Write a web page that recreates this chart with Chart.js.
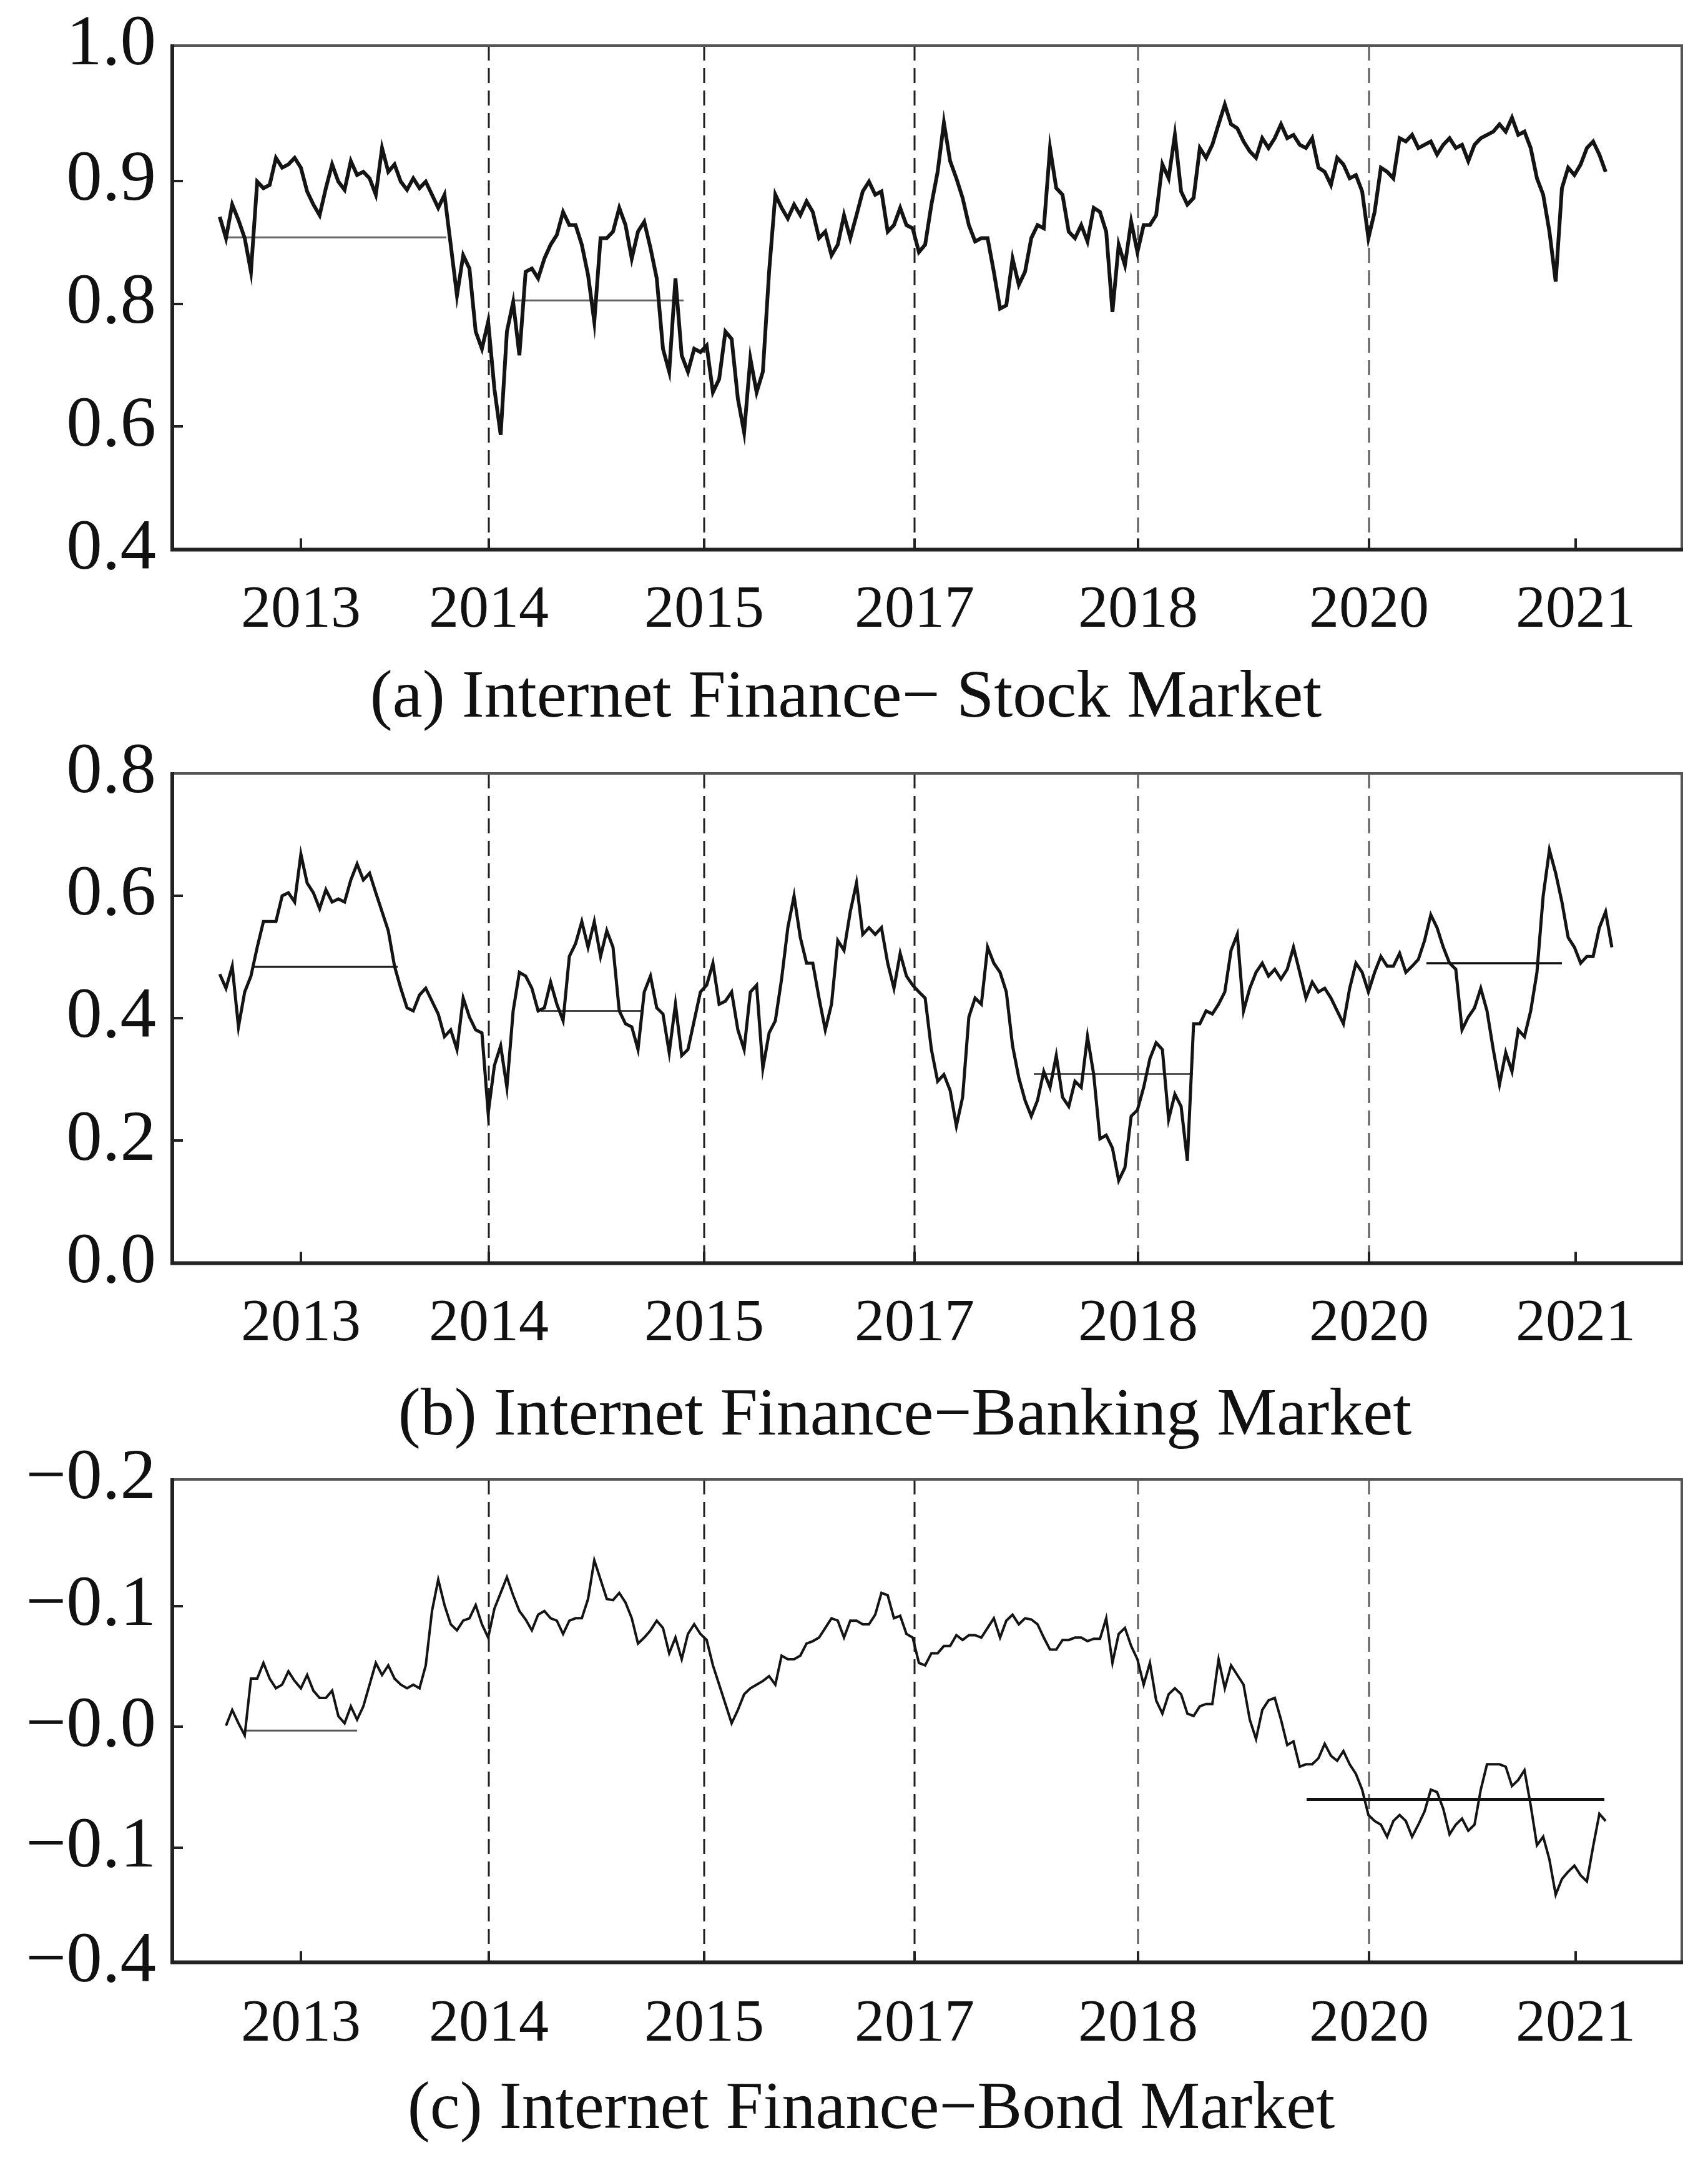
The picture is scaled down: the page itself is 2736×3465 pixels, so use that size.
<!DOCTYPE html>
<html>
<head>
<meta charset="utf-8">
<script src="https://cdn.jsdelivr.net/npm/chart.js@4.4.1/dist/chart.umd.min.js"></script>
<style>
  html, body { margin: 0; padding: 0; background: #fff; }
  body { width: 2736px; height: 3465px; position: relative; overflow: hidden; }
  canvas { position: absolute; left: 0; }
</style>
</head>
<body>
<canvas id="panelA" width="2736" height="1231" style="top:-47px"></canvas>
<canvas id="panelB" width="2736" height="1215" style="top:1119px"></canvas>
<canvas id="panelC" width="2736" height="1195" style="top:2250px"></canvas>
<script>
// x is the observation index (weekly); tick labels sit at fixed observations
const xTickPos = [13.0, 43.1, 77.6, 111.3, 147.1, 184.1, 217.2];
const xTickLabels = ["2013", "2014", "2015", "2017", "2018", "2020", "2021"];
const breakPos = [43.1, 77.6, 111.3, 147.1, 184.1];

// (a) stock market
const stockYTicks = [0.4, 0.55, 0.7, 0.85, 1.015];
const stockYLabels = ["0.4", "0.6", "0.8", "0.9", "1.0"];
const stockValues = [
  0.806,0.780,0.821,0.802,0.780,0.739,0.849,0.841,0.845,0.878,
  0.866,0.870,0.878,0.866,0.837,0.821,0.808,0.841,0.870,0.849,
  0.839,0.874,0.857,0.861,0.853,0.833,0.890,0.861,0.870,0.849,
  0.839,0.853,0.841,0.849,0.833,0.817,0.833,0.772,0.710,0.759,
  0.743,0.666,0.645,0.678,0.596,0.540,0.666,0.702,0.637,0.739,
  0.743,0.731,0.755,0.772,0.784,0.812,0.796,0.796,0.772,0.735,
  0.678,0.780,0.780,0.788,0.817,0.796,0.755,0.788,0.800,0.768,
  0.731,0.645,0.617,0.731,0.637,0.617,0.645,0.641,0.649,0.592,
  0.608,0.666,0.657,0.584,0.543,0.633,0.592,0.617,0.739,0.833,
  0.817,0.804,0.821,0.808,0.825,0.812,0.780,0.788,0.759,0.772,
  0.808,0.780,0.808,0.837,0.849,0.833,0.837,0.788,0.796,0.817,
  0.796,0.792,0.763,0.772,0.821,0.861,0.921,0.874,0.853,0.829,
  0.796,0.776,0.780,0.780,0.739,0.694,0.698,0.755,0.723,0.739,
  0.780,0.796,0.792,0.890,0.841,0.833,0.788,0.780,0.796,0.776,
  0.817,0.812,0.788,0.690,0.772,0.747,0.800,0.763,0.796,0.796,
  0.808,0.870,0.853,0.906,0.837,0.821,0.829,0.890,0.878,0.894,
  0.919,0.943,0.919,0.914,0.898,0.886,0.878,0.902,0.890,0.902,
  0.919,0.902,0.906,0.894,0.890,0.902,0.866,0.861,0.845,0.878,
  0.870,0.853,0.857,0.837,0.780,0.812,0.866,0.861,0.853,0.902,
  0.898,0.906,0.890,0.894,0.898,0.882,0.894,0.902,0.890,0.894,
  0.874,0.894,0.902,0.906,0.910,0.919,0.910,0.927,0.906,0.910,
  0.890,0.853,0.833,0.788,0.727,0.841,0.866,0.857,0.870,0.890,
  0.898,0.882,0.861
];
// regime means: [first obs, last obs, level]
const stockMeans = [[1.1, 36.3, 0.781], [47.2, 74.3, 0.704]];

// (b) banking market
const bankYTicks = [0, 0.2, 0.4, 0.6, 0.8];
const bankYLabels = ["0.0", "0.2", "0.4", "0.6", "0.8"];
const bankValues = [
  0.472,0.449,0.485,0.386,0.443,0.469,0.516,0.558,0.558,0.558,
  0.600,0.605,0.590,0.668,0.621,0.605,0.579,0.610,0.590,0.595,
  0.590,0.626,0.652,0.626,0.637,0.605,0.574,0.543,0.485,0.449,
  0.417,0.412,0.438,0.449,0.428,0.407,0.370,0.381,0.349,0.433,
  0.402,0.381,0.376,0.245,0.323,0.355,0.287,0.412,0.475,0.469,
  0.449,0.412,0.417,0.459,0.423,0.396,0.501,0.522,0.558,0.516,
  0.558,0.501,0.543,0.516,0.412,0.391,0.386,0.349,0.443,0.469,
  0.417,0.407,0.344,0.423,0.339,0.349,0.396,0.443,0.454,0.490,
  0.423,0.428,0.443,0.381,0.349,0.443,0.454,0.318,0.376,0.396,
  0.464,0.548,0.600,0.532,0.490,0.490,0.433,0.381,0.423,0.527,
  0.511,0.574,0.621,0.537,0.548,0.537,0.548,0.490,0.449,0.506,
  0.469,0.454,0.443,0.433,0.349,0.297,0.308,0.282,0.224,0.271,
  0.402,0.433,0.423,0.516,0.490,0.475,0.443,0.355,0.303,0.266,
  0.240,0.266,0.313,0.287,0.339,0.271,0.256,0.297,0.287,0.370,
  0.308,0.203,0.209,0.188,0.135,0.156,0.240,0.250,0.287,0.334,
  0.360,0.349,0.235,0.276,0.256,0.167,0.391,0.391,0.412,0.407,
  0.423,0.443,0.511,0.537,0.412,0.449,0.475,0.490,0.469,0.480,
  0.464,0.480,0.516,0.475,0.433,0.459,0.443,0.449,0.433,0.412,
  0.391,0.449,0.490,0.475,0.443,0.475,0.501,0.485,0.485,0.506,
  0.475,0.485,0.496,0.527,0.569,0.548,0.516,0.490,0.480,0.381,
  0.402,0.417,0.449,0.412,0.349,0.292,0.344,0.313,0.381,0.370,
  0.412,0.475,0.600,0.675,0.637,0.590,0.532,0.516,0.490,0.501,
  0.501,0.548,0.574,0.516
];
const bankMeans = [[5.4, 28.5, 0.484], [51.5, 67.8, 0.412], [130.4, 155.9, 0.309], [193.3, 215.0, 0.490]];

// (c) bond market
const bondYTicks = [-0.195, -0.1, 0, 0.1, 0.205];
const bondYLabels = ["\u22120.4", "\u22120.1", "\u22120.0", "\u22120.1", "\u22120.2"];
const bondValues = [
  null,0.001,0.014,0.003,-0.007,0.040,0.040,0.053,0.040,0.032,
  0.035,0.046,0.038,0.032,0.043,0.030,0.024,0.024,0.030,0.009,
  0.003,0.017,0.006,0.017,0.035,0.053,0.043,0.051,0.040,0.035,
  0.032,0.035,0.032,0.051,0.096,0.122,0.101,0.085,0.080,0.088,
  0.090,0.101,0.085,0.074,0.098,0.111,0.124,0.109,0.096,0.089,
  0.080,0.093,0.096,0.090,0.088,0.077,0.088,0.090,0.090,0.106,
  0.138,0.122,0.106,0.105,0.111,0.103,0.090,0.069,0.074,0.080,
  0.088,0.082,0.061,0.074,0.056,0.077,0.085,0.077,0.072,0.051,
  0.035,0.019,0.003,0.014,0.027,0.032,0.035,0.038,0.042,0.035,
  0.059,0.056,0.056,0.059,0.069,0.071,0.074,0.082,0.090,0.088,
  0.074,0.088,0.088,0.085,0.085,0.093,0.111,0.109,0.090,0.092,
  0.077,0.074,0.053,0.051,0.061,0.061,0.067,0.067,0.076,0.072,
  0.076,0.076,0.074,0.082,0.090,0.074,0.088,0.093,0.085,0.090,
  0.089,0.085,0.074,0.064,0.064,0.072,0.072,0.074,0.074,0.071,
  0.073,0.073,0.090,0.053,0.077,0.082,0.067,0.056,0.035,0.053,
  0.022,0.011,0.027,0.032,0.027,0.011,0.009,0.017,0.019,0.019,
  0.056,0.032,0.051,0.043,0.035,0.006,-0.010,0.014,0.022,0.024,
  0.006,-0.015,-0.012,-0.033,-0.031,-0.031,-0.026,-0.014,-0.024,-0.028,
  -0.020,-0.031,-0.039,-0.052,-0.073,-0.078,-0.081,-0.091,-0.078,-0.073,
  -0.078,-0.091,-0.081,-0.070,-0.052,-0.054,-0.068,-0.089,-0.081,-0.076,
  -0.086,-0.081,-0.052,-0.031,-0.031,-0.031,-0.033,-0.049,-0.044,-0.036,
  -0.065,-0.098,-0.091,-0.110,-0.139,-0.126,-0.120,-0.115,-0.123,-0.128,
  -0.099,-0.072,-0.078
];
const bondMeans = [[4.1, 22.0, -0.003], [174.1, 221.8, -0.060]];

const xMin = -7.6, xMax = 234.2;
const serif = "'Liberation Serif', 'Times New Roman', serif";
Chart.defaults.font.family = serif;

const framePlugin = {
    id: "frame",
    beforeDatasetsDraw(chart) {
        const { ctx, chartArea: a } = chart;
        const x = chart.scales.x;
        ctx.save();
        ctx.setLineDash([24, 12]);
        ctx.lineWidth = 3;
        breakPos.forEach((v, k) => {
            const px = Math.round(x.getPixelForValue(v));
            ctx.strokeStyle = k < 3 ? "#1e1e1e" : "#5c5c5c";
            ctx.beginPath();
            ctx.moveTo(px, a.top);
            ctx.lineTo(px, a.bottom);
            ctx.stroke();
        });
        ctx.restore();
    },
    afterDraw(chart) {
        const { ctx, chartArea: a } = chart;
        const x = chart.scales.x, y = chart.scales.y;
        ctx.save();
        ctx.strokeStyle = "#222";
        ctx.lineWidth = 4;
        // inward tick marks
        y.ticks.forEach((t) => {
            const py = Math.round(y.getPixelForValue(t.value));
            ctx.beginPath();
            ctx.moveTo(a.left, py);
            ctx.lineTo(a.left + 17, py);
            ctx.stroke();
        });
        x.ticks.forEach((t) => {
            const px = Math.round(x.getPixelForValue(t.value));
            ctx.beginPath();
            ctx.moveTo(px, a.bottom);
            ctx.lineTo(px, a.bottom - 18);
            ctx.stroke();
        });
        // box
        ctx.strokeStyle = "#555";
        ctx.lineWidth = 4;
        ctx.beginPath();
        ctx.moveTo(a.left, a.top);
        ctx.lineTo(a.right, a.top);
        ctx.lineTo(a.right, a.bottom);
        ctx.stroke();
        ctx.strokeStyle = "#222";
        ctx.lineWidth = 6;
        ctx.beginPath();
        ctx.moveTo(a.left, a.top - 2);
        ctx.lineTo(a.left, a.bottom);
        ctx.lineTo(a.right + 2, a.bottom);
        ctx.stroke();
        ctx.restore();
    },
};

function drawPanel(id, cfg) {
    const datasets = [
        {
            data: cfg.values.map((v, i) => ({ x: i, y: v })),
            borderColor: "#141414",
            borderWidth: cfg.lineWidth,
            pointRadius: 0,
            tension: 0,
        },
    ];
    cfg.means.forEach((m, k) => {
        datasets.push({
            data: [{ x: m[0], y: m[2] }, { x: m[1], y: m[2] }],
            borderColor: cfg.meanColors[k],
            borderWidth: cfg.meanWidths[k],
            pointRadius: 0,
        });
    });

    return new Chart(document.getElementById(id), {
        type: "line",
        data: { datasets: datasets },
        options: {
            responsive: false,
            animation: false,
            devicePixelRatio: 1,
            layout: { padding: { top: 120, left: 16, right: 42, bottom: 0 } },
            plugins: {
                legend: { display: false },
                tooltip: { enabled: false },
                title: {
                    display: true,
                    position: "bottom",
                    text: cfg.caption,
                    color: "#111",
                    font: { family: serif, size: 108, weight: "normal" },
                    padding: { top: 0, bottom: 0 },
                },
            },
            scales: {
                x: {
                    type: "linear",
                    min: xMin,
                    max: xMax,
                    afterBuildTicks: (s) => {
                        s.ticks = xTickPos.map((v) => ({ value: v }));
                    },
                    afterFit: (s) => {
                        s.height = cfg.xAxisHeight;
                    },
                    ticks: {
                        callback: (v, i) => xTickLabels[i],
                        color: "#111",
                        font: { size: 96 },
                        padding: cfg.xLabelPad,
                        maxRotation: 0,
                        autoSkip: false,
                    },
                    grid: { display: false, drawTicks: false },
                    border: { display: false },
                },
                y: {
                    type: "linear",
                    min: cfg.yTicks[0],
                    max: cfg.yTicks[cfg.yTicks.length - 1],
                    afterBuildTicks: (s) => {
                        s.ticks = cfg.yTicks.map((v) => ({ value: v }));
                    },
                    afterFit: (s) => {
                        s.width = 276 - 16;
                    },
                    ticks: {
                        callback: (v, i) => cfg.yLabels[i],
                        color: "#111",
                        font: { size: 115 },
                        padding: 26,
                        autoSkip: false,
                    },
                    grid: { display: false, drawTicks: false },
                    border: { display: false },
                },
            },
        },
        plugins: [framePlugin],
    });
}

drawPanel("panelA", {
    values: stockValues,
    means: stockMeans,
    meanColors: ["#666", "#666"],
    meanWidths: [3, 3],
    lineWidth: 6,
    yTicks: stockYTicks,
    yLabels: stockYLabels,
    xAxisHeight: 174,
    xLabelPad: 41,
    caption: "(a) Internet Finance\u2212 Stock Market",
});

drawPanel("panelB", {
    values: bankValues,
    means: bankMeans,
    meanColors: ["#222", "#444", "#555", "#111"],
    meanWidths: [3.5, 3, 3, 3.5],
    lineWidth: 5,
    yTicks: bankYTicks,
    yLabels: bankYLabels,
    xAxisHeight: 181,
    xLabelPad: 41,
    caption: "\u00a0\u00a0\u00a0\u00a0\u00a0\u00a0\u00a0(b) Internet Finance\u2212Banking Market",
});

drawPanel("panelC", {
    values: bondValues,
    means: bondMeans,
    meanColors: ["#555", "#111"],
    meanWidths: [3, 5],
    lineWidth: 4,
    yTicks: bondYTicks,
    yLabels: bondYLabels,
    xAxisHeight: 172,
    xLabelPad: 43,
    caption: "\u00a0\u00a0\u00a0(c) Internet Finance\u2212Bond Market",
});
</script>
</body>
</html>
